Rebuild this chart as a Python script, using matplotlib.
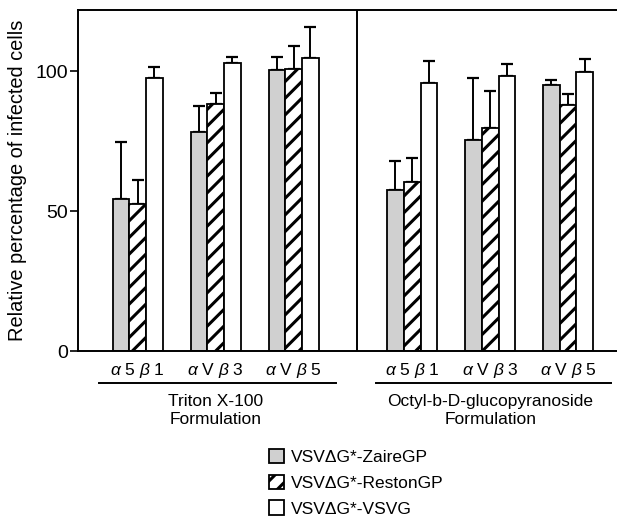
import numpy as np
import matplotlib
matplotlib.use("Agg")
import matplotlib.pyplot as plt
from matplotlib.transforms import blended_transform_factory

plt.rcParams['font.family'] = ['Liberation Sans', 'DejaVu Sans']
plt.rcParams['mathtext.fontset'] = 'custom'
plt.rcParams['mathtext.rm'] = 'Liberation Sans'
plt.rcParams['mathtext.it'] = 'Liberation Sans:italic'
plt.rcParams['hatch.linewidth'] = 2.2

# --- data ---
integrins = [r'$\alpha$ 5 $\beta$ 1', r'$\alpha$ V $\beta$ 3', r'$\alpha$ V $\beta$ 5']
formulations = ['Triton X-100\nFormulation', 'Octyl-b-D-glucopyranoside\nFormulation']
series = ['VSVΔG*-ZaireGP', 'VSVΔG*-RestonGP', 'VSVΔG*-VSVG']

# values per formulation, rows = series, columns = integrins
triton_vals = [[54.3, 78.3, 100.2],
               [52.5, 88.2, 100.8],
               [97.6, 103.0, 104.5]]
triton_err = [[20.3, 9.1, 4.8],
              [8.5, 3.8, 8.2],
              [3.9, 1.9, 11.1]]
octyl_vals = [[57.5, 75.5, 95.0],
              [60.2, 79.5, 88.0],
              [95.7, 98.2, 99.6]]
octyl_err = [[10.2, 22.0, 1.7],
             [8.8, 13.2, 3.8],
             [8.0, 4.3, 4.7]]

yticks = [0, 50, 100]

# --- layout ---
fig = plt.figure(figsize=(6.17, 5.17), dpi=100)
ax = fig.add_axes([78 / 617, 166 / 517, 558 / 617, 341 / 517])

bar_w = 0.214
panel_offset = [0.0, 3.52]
fills = ['#d0d0d0', 'white', 'white']
hatches = [None, '//', None]

vals_all = [triton_vals, octyl_vals]
err_all = [triton_err, octyl_err]

handles = []
for p in range(2):
    centers = panel_offset[p] + np.arange(len(integrins))
    for s in range(len(series)):
        x = centers + (s - 1) * bar_w
        v = vals_all[p][s]
        e = err_all[p][s]
        b = ax.bar(x, v, width=bar_w, color=fills[s], edgecolor='black',
                   linewidth=1.3, hatch=hatches[s], zorder=2)
        ax.errorbar(x, v, yerr=[np.zeros(len(e)), e], fmt='none',
                    ecolor='black', elinewidth=1.4, capsize=4, capthick=1.6,
                    zorder=1)
        if p == 0:
            handles.append(b)

ax.set_xlim(-0.765, 6.39)
ax.set_ylim(0, 121.8)
ax.set_yticks(yticks)
ax.set_xticks([])
ax.tick_params(axis='y', direction='out', length=6, width=1.2, labelsize=14, pad=1)
for sp in ax.spines.values():
    sp.set_linewidth(1.4)

# divider between the two formulations
ax.axvline(2.81, color='black', linewidth=1.4)

ax.set_ylabel('Relative percentage of infected cells', fontsize=14.4, labelpad=6)

# x labels, underlines and formulation labels
trans = blended_transform_factory(ax.transData, ax.transAxes)
line_spans = [(-0.50, 2.54), (3.05, 6.07)]
for p in range(2):
    centers = panel_offset[p] + np.arange(len(integrins))
    for c, lab in zip(centers, integrins):
        ax.text(c, -0.056, lab, transform=trans, ha='center', va='center',
                fontsize=12.5)
    ax.plot(line_spans[p], [-0.094, -0.094], transform=trans, color='black',
            linewidth=1.4, clip_on=False)
    ax.text(np.mean(centers), -0.126, formulations[p], transform=trans,
            ha='center', va='top', fontsize=12.5, linespacing=1.25)

fig.legend(handles, series, loc='upper left', bbox_to_anchor=(262 / 617, 1 - 442 / 517),
           frameon=False, fontsize=12.5, handlelength=0.85, handleheight=0.9,
           handletextpad=0.4, labelspacing=0.55, borderaxespad=0)

fig.savefig('out.png', dpi=100)
